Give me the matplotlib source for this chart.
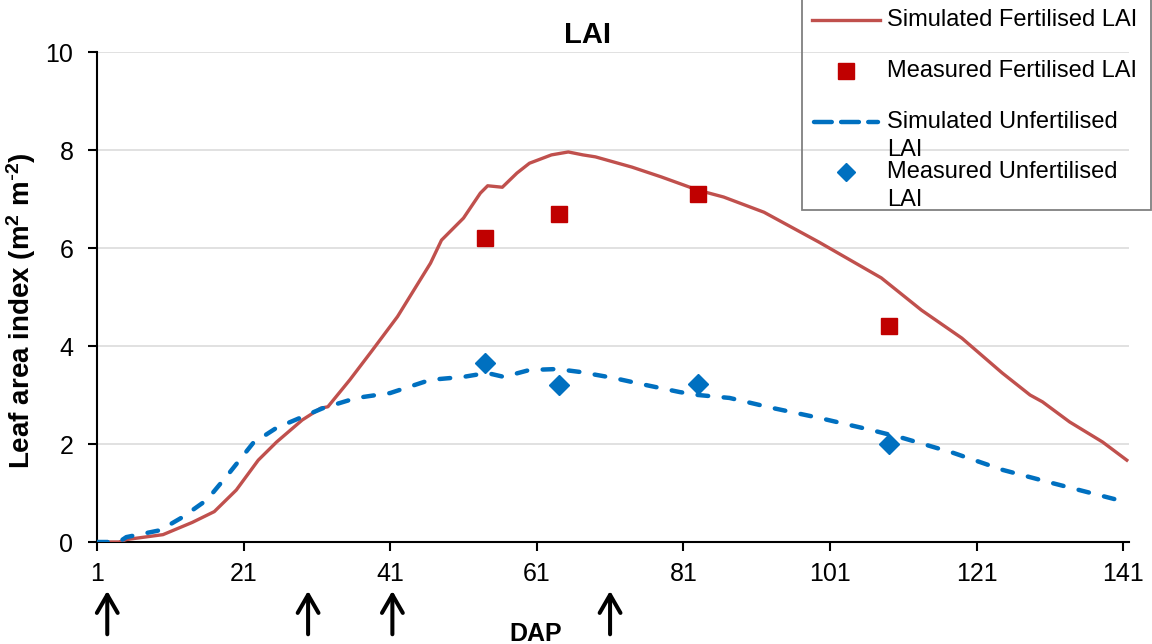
import matplotlib
matplotlib.use("Agg")
import matplotlib.pyplot as plt
from matplotlib.lines import Line2D
from matplotlib.patches import Rectangle

plt.rcParams['font.family'] = ['Liberation Sans', 'DejaVu Sans']
plt.rcParams['mathtext.default'] = 'regular'

# simulated LAI, fertilised
fert_days = [1, 4, 5, 10, 14, 17, 20, 23, 25.5, 29, 31.5, 32.5, 35.5, 38.5, 42, 46.5,
             48, 51, 53.3, 54.3, 56.3, 58.3, 60, 63, 65.3, 67.3, 69, 74, 78, 83, 86.5,
             92, 99.5, 108, 113.5, 119, 124.5, 128.3, 130, 133.7, 138.2, 141.5]
fert_sim = [0, 0, 0.05, 0.15, 0.4, 0.62, 1.06, 1.67, 2.04, 2.49, 2.73, 2.76, 3.31, 3.9,
            4.6, 5.69, 6.16, 6.61, 7.12, 7.27, 7.24, 7.53, 7.73, 7.9, 7.96, 7.9, 7.86,
            7.65, 7.45, 7.18, 7.04, 6.73, 6.12, 5.39, 4.73, 4.16, 3.45, 3.0, 2.86, 2.45,
            2.04, 1.67]

# simulated LAI, unfertilised
unfert_days = [1, 4, 5, 9.6, 12.7, 16, 19, 22.3, 25.5, 29.6, 31.8, 36.4, 41, 46.5, 51,
               54.2, 56.5, 60, 63.8, 66.9, 71.4, 76, 80.5, 83, 87.3, 93, 99.6, 106.5,
               111, 117.8, 124.6, 131.4, 141]
unfert_sim = [0, 0, 0.1, 0.24, 0.51, 0.86, 1.4, 2.02, 2.33, 2.59, 2.73, 2.94, 3.04, 3.31,
              3.37, 3.45, 3.37, 3.51, 3.53, 3.47, 3.35, 3.2, 3.06, 3.0, 2.94, 2.74, 2.53,
              2.29, 2.12, 1.82, 1.47, 1.2, 0.83]

# measured
meas_days = [54, 64, 83, 109]
fert_meas = [6.2, 6.7, 7.1, 4.4]
unfert_meas = [3.65, 3.2, 3.22, 2.0]

# fertiliser application (arrows under the axis)
arrow_days = [2.4, 29.8, 41.3, 71]

xticks = [1, 21, 41, 61, 81, 101, 121, 141]
yticks = [0, 2, 4, 6, 8, 10]

RED_LINE = '#C0504D'
RED_MARK = '#C00000'
BLUE = '#0070C0'

W, H = 1152, 644
fig = plt.figure(figsize=(W / 100, H / 100), dpi=100)
ax = fig.add_axes([97 / W, 1 - 542 / H, (1129 - 97) / W, (542 - 52) / H])

def fx(px):
    return px / W

def fy(py):
    return 1 - py / H

ax.plot(fert_days, fert_sim, color=RED_LINE, lw=2.4, zorder=3)
ax.plot(meas_days, fert_meas, 's', color=RED_MARK, ms=11, zorder=4)
ax.plot(unfert_days, unfert_sim, color=BLUE, lw=3.2, dashes=(2.4, 3.5),
        dash_capstyle='round', zorder=3)
ax.plot(meas_days, unfert_meas, 'D', color=BLUE, ms=10, zorder=4)

ax.set_xlim(1, 141.8)
ax.set_ylim(0, 10)
ax.set_xticks(xticks)
ax.set_yticks(yticks)
ax.grid(axis='y', color='#d9d9d9', lw=1.1)
ax.set_axisbelow(True)
for s in ['top', 'right']:
    ax.spines[s].set_visible(False)
for s in ['left', 'bottom']:
    ax.spines[s].set_linewidth(1.5)
ax.tick_params(axis='both', direction='out', length=6.5, width=1.5, labelsize=18)
ax.tick_params(axis='y', pad=10.5)
ax.tick_params(axis='x', pad=8)

ax.set_title('LAI', fontsize=21, fontweight='bold', x=0.475, pad=6.5)
ax.set_ylabel(r'Leaf area index (m$^{2}$ m$^{\text{-}2}$)', fontsize=20, fontweight='bold')
ax.yaxis.set_label_coords(-0.057, 0.471)
ax.set_xlabel('DAP', fontsize=18, fontweight='bold')
ax.xaxis.set_label_coords(0.425, -0.163)

# arrows
for d in arrow_days:
    ax.annotate('', xy=(d, -0.094), xytext=(d, -0.194),
                xycoords=('data', 'axes fraction'), textcoords=('data', 'axes fraction'),
                arrowprops=dict(arrowstyle='->,head_length=1.3,head_width=0.75',
                                color='black', lw=2.9), annotation_clip=False)

# legend drawn in figure pixels, Excel style
fig.add_artist(Rectangle((fx(802), fy(210)), fx(1151) - fx(802), fy(-1) - fy(210),
                         transform=fig.transFigure, fill=False, edgecolor='#808080', lw=1.3))
fig.add_artist(Line2D([fx(812), fx(880)], [fy(20), fy(20)], transform=fig.transFigure,
                      color=RED_LINE, lw=2.4))
fig.add_artist(Line2D([fx(846)], [fy(71)], transform=fig.transFigure, marker='s',
                      color=RED_MARK, ms=11, ls='none'))
fig.add_artist(Line2D([fx(814), fx(878)], [fy(122), fy(122)], transform=fig.transFigure,
                      color=BLUE, lw=3.2, dashes=(4, 2.1), dash_capstyle='round'))
fig.add_artist(Line2D([fx(846)], [fy(172)], transform=fig.transFigure, marker='D',
                      color=BLUE, ms=9, ls='none'))
leg_labels = [('Simulated Fertilised LAI', 20), ('Measured Fertilised LAI', 71),
              ('Simulated Unfertilised', 122), ('LAI', 150),
              ('Measured Unfertilised', 172), ('LAI', 200)]
for txt, py in leg_labels:
    fig.text(fx(887), fy(py), txt, fontsize=17, va='center', ha='left')

fig.savefig('out.png', dpi=100)
